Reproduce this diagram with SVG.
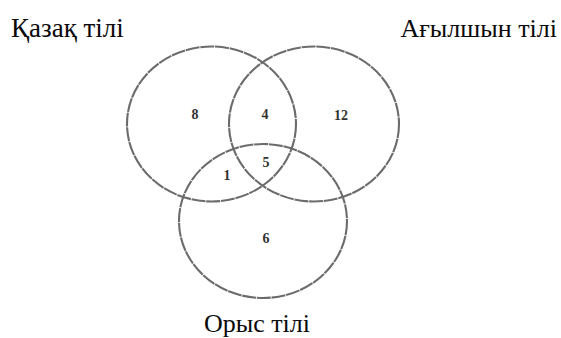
<svg xmlns="http://www.w3.org/2000/svg" width="561" height="338" viewBox="0 0 561 338">
<style>
.set{fill:none;stroke:#6c6c6c;stroke-width:2.1;stroke-dasharray:14 0.8}
.lbl{font-family:"Liberation Serif","Times New Roman",serif;font-size:26px;fill:#0a0a0a}
.num{font-family:"Liberation Serif","Times New Roman",serif;font-size:14px;font-weight:bold;fill:#333;text-anchor:middle}
</style>
<rect width="561" height="338" fill="#fff"/>
<g id="kazakh">
<ellipse class="set" cx="211.5" cy="124" rx="84.5" ry="77.5"/>
<text class="lbl" x="11" y="37" style="font-size:27px">Қазақ тілі</text>
</g>
<g id="english">
<ellipse class="set" cx="314" cy="124" rx="85" ry="77.5"/>
<text class="lbl" x="557" y="37" text-anchor="end">Ағылшын тілі</text>
</g>
<g id="russian">
<ellipse class="set" cx="263" cy="221" rx="84" ry="77"/>
<text class="lbl" x="257" y="332" text-anchor="middle">Орыс тілі</text>
</g>
<g id="counts">
<text class="num" x="195" y="119">8</text>
<text class="num" x="265" y="119">4</text>
<text class="num" x="341" y="120">12</text>
<text class="num" x="266" y="167">5</text>
<text class="num" x="227" y="180">1</text>
<text class="num" x="266" y="243">6</text>
</g>
</svg>
